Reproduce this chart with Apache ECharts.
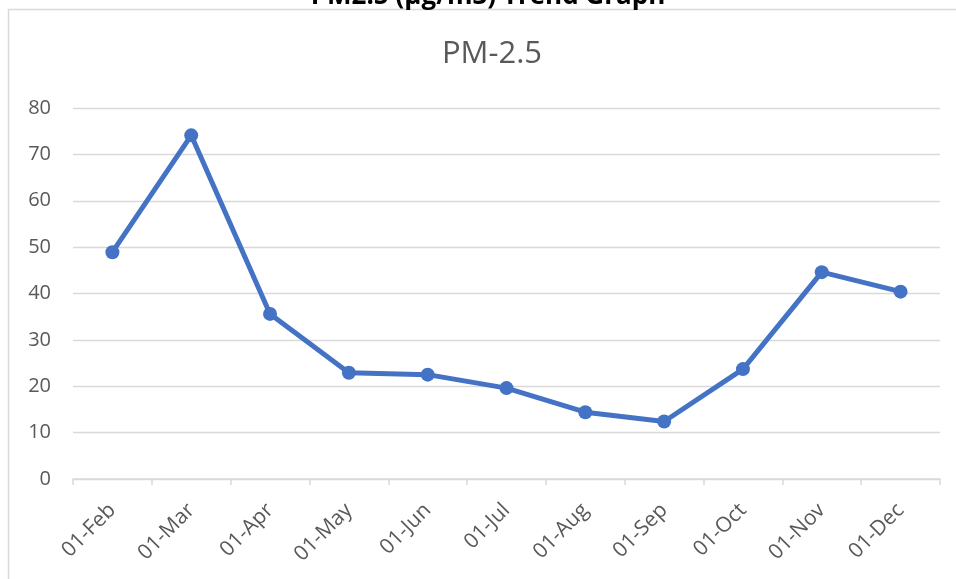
<!DOCTYPE html>
<html>
<head>
<meta charset="utf-8">
<script src="https://cdn.jsdelivr.net/npm/echarts@6/dist/echarts.min.js"></script>
<style>
html,body{margin:0;padding:0;background:#fff;}
#chart{width:956px;height:579px;}
</style>
</head>
<body>
<div id="chart"></div>
<script>
const categories = ['01-Feb','01-Mar','01-Apr','01-May','01-Jun','01-Jul','01-Aug','01-Sep','01-Oct','01-Nov','01-Dec'];
const pm25 = [48.9, 74.1, 35.6, 22.9, 22.5, 19.6, 14.4, 12.4, 23.7, 44.6, 40.4];
const chartTitle = 'PM-2.5';
const pageTitle = 'PM2.5 (µg/m3) Trend Graph';

const chart = echarts.init(document.getElementById('chart'));
const font = '"Open Sans", "Liberation Sans", sans-serif';
chart.setOption({
  animation: false,
  backgroundColor: '#ffffff',
  title: {
    text: chartTitle,
    left: 487,
    textAlign: 'center',
    top: 34,
    textStyle: {fontFamily: font, fontSize: 31, fontWeight: 'normal', color: '#595959'}
  },
  graphic: [
    {type: 'rect', z: 0, shape: {x: 8.5, y: 9.5, width: 1200, height: 1200},
     style: {fill: 'none', stroke: '#d9d9d9', lineWidth: 1.5}},
    {type: 'text', z: 10, style: {text: pageTitle, x: 488, y: 10, textAlign: 'center', textVerticalAlign: 'bottom',
     fontFamily: font, fontSize: 26, fontWeight: 'bold', fill: '#000000'}}
  ],
  grid: {left: 73, right: 16, top: 108, bottom: 100},
  xAxis: {
    type: 'category',
    data: categories,
    boundaryGap: true,
    axisLine: {lineStyle: {color: '#d9d9d9', width: 1.5}},
    axisTick: {show: true, length: 6, lineStyle: {color: '#d9d9d9', width: 1.5}},
    axisLabel: {rotate: 45, fontFamily: font, fontSize: 21, color: '#595959', margin: 28, interval: 0}
  },
  yAxis: {
    type: 'value',
    min: 0, max: 80, interval: 10,
    axisLine: {show: false},
    axisTick: {show: false},
    splitLine: {lineStyle: {color: '#d9d9d9', width: 1.3}},
    axisLabel: {fontFamily: font, fontSize: 20, color: '#595959', margin: 22}
  },
  series: [{
    type: 'line',
    data: pm25,
    symbol: 'circle',
    symbolSize: 14,
    lineStyle: {color: '#4472C4', width: 5},
    itemStyle: {color: '#4472C4'}
  }]
});
</script>
</body>
</html>
